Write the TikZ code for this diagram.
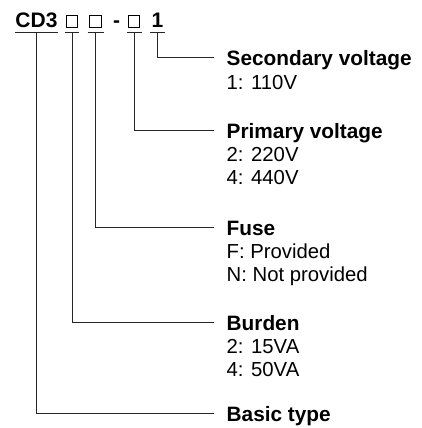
\documentclass[tikz,border=0pt]{standalone}
\usepackage{fontspec}
\setmainfont{Liberation Sans}
\usetikzlibrary{calc}

\begin{document}
\begin{tikzpicture}[x=1pt, y=-1pt,
	codepart/.style={inner sep=0pt, anchor=base, font=\fontsize{21}{21}\selectfont\bfseries},
	slot/.style={draw, line width=0.7pt, inner sep=0pt, minimum width=11.5pt, minimum height=12.5pt, anchor=south},
	head/.style={inner sep=0pt, anchor=base west, font=\fontsize{20.8}{20.8}\selectfont\bfseries},
	item/.style={inner sep=0pt, anchor=base west, font=\fontsize{20.3}{20.3}\selectfont},
	lead/.style={line width=0.8pt, color=black!85}]
			%%%%% START %%%%%
			
			\useasboundingbox (0, 0) rectangle (421, 428);
			
			\node[codepart] (cd3) at (36.5, 28) {CD3};
			\node[slot] (burdenbox) at (72, 28) {};
			\node[slot] (fusebox) at (95.5, 28) {};
			\node[codepart] (dash) at (116.5, 28) {-};
			\node[slot] (primbox) at (134, 28) {};
			\node[codepart] (one) at (157.5, 28) {1};
			
			\coordinate (cd3u) at ([yshift=-4pt]cd3.base);
			\coordinate (burdenu) at ([yshift=-4pt]burdenbox.south);
			\coordinate (fuseu) at ([yshift=-4pt]fusebox.south);
			\coordinate (primu) at ([yshift=-4pt]primbox.south);
			\coordinate (oneu) at ([yshift=-4pt]one.base);
			
			\draw[lead] ([xshift=-21.5pt]cd3u) -- ([xshift=21pt]cd3u);
			\draw[lead] ([xshift=-7pt]burdenu) -- ([xshift=7pt]burdenu);
			\draw[lead] ([xshift=-8pt]fuseu) -- ([xshift=8pt]fuseu);
			\draw[lead] ([xshift=-7.5pt]primu) -- ([xshift=7.5pt]primu);
			\draw[lead] ([xshift=-7.5pt]oneu) -- ([xshift=7.5pt]oneu);
			
			\node[head] (secv) at (226.5, 66) {Secondary voltage};
			\node[item] (secv1) at (226.5, 89) {1: 110V};
			
			\node[head] (primv) at (226.5, 138) {Primary voltage};
			\node[item] (primv2) at (226.5, 161) {2: 220V};
			\node[item] (primv4) at (226.5, 184) {4: 440V};
			
			\node[head] (fuse) at (226.5, 235) {Fuse};
			\node[item] (fusef) at (226.5, 258) {F: Provided};
			\node[item] (fusen) at (226.5, 281) {N: Not provided};
			
			\node[head] (burden) at (226.5, 330) {Burden};
			\node[item] (burden2) at (226.5, 353) {2: 15VA};
			\node[item] (burden4) at (226.5, 376) {4: 50VA};
			
			\node[head] (basic) at (226.5, 421) {Basic type};
			
			\draw[lead] (oneu) |- ([xshift=-12.5pt, yshift=8.5pt]secv.base west);
			\draw[lead] (primu) |- ([xshift=-12.5pt, yshift=8pt]primv.base west);
			\draw[lead] (fuseu) |- ([xshift=-12.5pt, yshift=8pt]fuse.base west);
			\draw[lead] (burdenu) |- ([xshift=-12.5pt, yshift=8pt]burden.base west);
			\draw[lead] (cd3u) |- ([xshift=-12.5pt, yshift=8pt]basic.base west);
			
			%%%%% END %%%%%
\end{tikzpicture}
\end{document}
